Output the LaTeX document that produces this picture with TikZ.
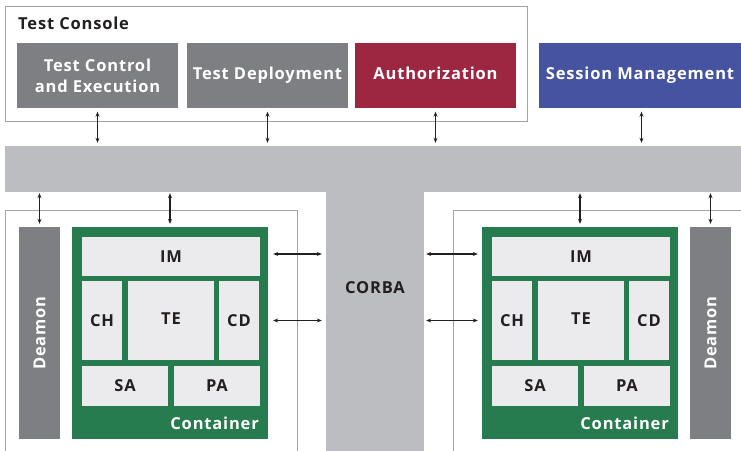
\documentclass[tikz,border=0pt]{standalone}
\usepackage{fontspec}
\setmainfont{Open Sans}[LetterSpace=5]
\usepackage{xcolor}
\usetikzlibrary{positioning, arrows.meta, calc}

\definecolor{boxgray}{HTML}{7E7F83}
\definecolor{authred}{HTML}{9D2641}
\definecolor{sessblue}{HTML}{4553A0}
\definecolor{busgray}{HTML}{BCBDC0}
\definecolor{contgreen}{HTML}{267C4F}
\definecolor{partgray}{HTML}{EBEBED}
\definecolor{framegray}{HTML}{A3A3A3}
\definecolor{textdark}{HTML}{231F20}

\tikzset{
    basefont/.style={
        font=\fontsize{16.5}{21}\selectfont\bfseries
    },
    block/.style={
        rectangle, basefont, inner sep=0pt,
        text=white, align=center
    },
    oneline/.style={
        text height=12pt, text depth=4pt
    },
    part/.style={
        rectangle, basefont, inner sep=0pt,
        fill=partgray, text=textdark
    },
    frame/.style={
        draw=framegray, line width=0.9pt
    }
}

\begin{document}
\begin{tikzpicture}[x=1pt, y=-1pt,
        tip/.style={{Stealth[length=5pt,width=4pt]}-{Stealth[length=5pt,width=4pt]}, line width=1.1pt, draw=textdark}
    ]
        \useasboundingbox (0,0) rectangle (741,450);

        % Test Console
        \node[rectangle, frame, minimum width=522pt, minimum height=115pt] (console) at (266,63.5) {};
        \node[basefont, anchor=west, inner sep=0pt, text=textdark] (console_title) at (18,23) {Test Console};
        \node[block, fill=boxgray, minimum width=161pt, minimum height=65pt] (tce) at (97.5,75.5) {Test Control\\and Execution};
        \node[block, oneline, fill=boxgray, minimum width=161pt, minimum height=65pt] (tdep) at (267.5,75.5) {Test Deployment};
        \node[block, oneline, fill=authred, minimum width=161pt, minimum height=65pt] (auth) at (435.5,75.5) {Authorization};
        \node[block, oneline, fill=sessblue, minimum width=202pt, minimum height=65pt] (sess) at (640,75.5) {Session Management};

        % Bus and CORBA
        \node[rectangle, fill=busgray, minimum width=736pt, minimum height=46pt] (bus) at (373,169) {};
        \node[rectangle, fill=busgray, minimum width=98pt, minimum height=260pt] (corba) at (375,321) {};
        \node[basefont, text=textdark, inner sep=0pt] (corba_label) at (375,288) {CORBA};

        % Left node
        \draw[frame] (5.7,452) -- (5.7,210) -- (297,210) -- (297,452);
        \node[block, fill=boxgray, minimum width=41pt, minimum height=212pt] (deamonL) at (39.5,333) {};
        \node[basefont, text=white, rotate=90, inner sep=0pt] at (deamonL) {Deamon};
        \node[rectangle, fill=contgreen, minimum width=196pt, minimum height=212pt] (contL) at (170,333) {};
        \node[part, minimum width=178pt, minimum height=39pt] (imL) at (171,256.5) {IM};
        \node[part, minimum width=40pt, minimum height=79pt] (chL) at (102,320.5) {CH};
        \node[part, minimum width=86pt, minimum height=79pt] (teL) at (171,320.5) {\raisebox{4pt}{TE}};
        \node[part, minimum width=40pt, minimum height=79pt] (cdL) at (239,320.5) {CD};
        \node[part, minimum width=86pt, minimum height=40pt] (saL) at (125,386) {SA};
        \node[part, minimum width=86pt, minimum height=40pt] (paL) at (217,386) {PA};
        \node[basefont, text=white, anchor=base east, inner sep=0pt] (contL_label) at (259,429) {Container};

        % Right node
        \draw[frame] (453,452) -- (453,210) -- (745,210);
        \node[block, fill=boxgray, minimum width=41pt, minimum height=212pt] (deamonR) at (710.5,333) {};
        \node[basefont, text=white, rotate=90, inner sep=0pt] at (deamonR) {Deamon};
        \node[rectangle, fill=contgreen, minimum width=196pt, minimum height=212pt] (contR) at (580,333) {};
        \node[part, minimum width=178pt, minimum height=39pt] (imR) at (581,256.5) {IM};
        \node[part, minimum width=40pt, minimum height=79pt] (chR) at (512,320.5) {CH};
        \node[part, minimum width=86pt, minimum height=79pt] (teR) at (581,320.5) {\raisebox{4pt}{TE}};
        \node[part, minimum width=40pt, minimum height=79pt] (cdR) at (649,320.5) {CD};
        \node[part, minimum width=86pt, minimum height=40pt] (saR) at (535,386) {SA};
        \node[part, minimum width=86pt, minimum height=40pt] (paR) at (627,386) {PA};
        \node[basefont, text=white, anchor=base east, inner sep=0pt] (contR_label) at (669,429) {Container};

        % Arrows to the bus
        \draw[tip, shorten <=3.5pt, shorten >=3pt] (tce) -- (tce |- bus.north);
        \draw[tip, shorten <=3.5pt, shorten >=3pt] (tdep) -- (tdep |- bus.north);
        \draw[tip, shorten <=3.5pt, shorten >=3pt] (auth) -- (auth |- bus.north);
        \draw[tip, shorten <=3.5pt, shorten >=3pt] ([xshift=1.5pt]sess.south) -- ([xshift=1.5pt]sess |- bus.north);
        \draw[tip, shorten <=1pt, shorten >=3pt] (deamonL |- bus.south) -- (deamonL.north);
        \draw[tip, shorten <=1pt, shorten >=3pt] (contL |- bus.south) -- (contL.north);
        \draw[tip, shorten <=1pt, shorten >=3pt] (contR |- bus.south) -- (contR.north);
        \draw[tip, shorten <=1pt, shorten >=3pt] (deamonR |- bus.south) -- (deamonR.north);

        % Arrows to CORBA
        \draw[tip, shorten <=5pt, shorten >=4pt] ([yshift=2.5pt]imL.east -| contL.east) -- ([yshift=2.5pt]imL.east -| corba.west);
        \draw[tip, shorten <=5pt, shorten >=4pt] (cdL.east -| contL.east) -- (cdL.east -| corba.west);
        \draw[tip, shorten <=2pt, shorten >=4pt] ([yshift=2.5pt]imR.west -| corba.east) -- ([yshift=2.5pt]imR.west -| contR.west);
        \draw[tip, shorten <=2pt, shorten >=4pt] (chR.west -| corba.east) -- (chR.west -| contR.west);

    \end{tikzpicture}
\end{document}
